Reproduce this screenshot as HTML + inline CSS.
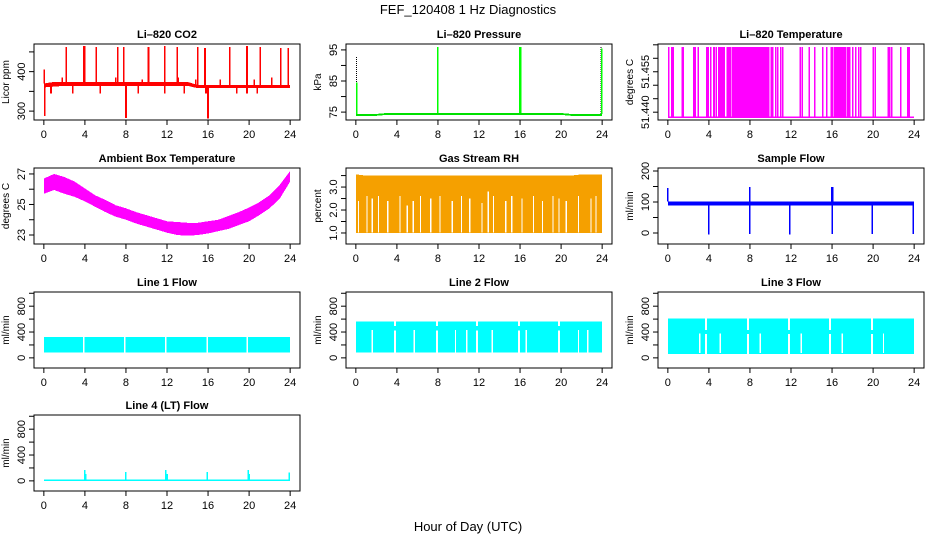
<!DOCTYPE html>
<html><head><meta charset="utf-8"><style>
html,body{margin:0;padding:0;background:#fff;}
svg{display:block;font-family:"Liberation Sans",Arial,sans-serif;}
</style></head><body>
<svg id="chart" width="936" height="540" viewBox="0 0 936 540" xmlns="http://www.w3.org/2000/svg">
<text x="468" y="14" text-anchor="middle" font-size="13">FEF_120408  1 Hz Diagnostics</text>
<text x="468" y="531" text-anchor="middle" font-size="13">Hour of Day (UTC)</text>
</svg>
<script>
// ---- data ----
const hours = [0,1,2,3,4,5,6,7,8,9,10,11,12,13,14,15,16,17,18,19,20,21,22,23,24];
const xTicks = [0,4,8,12,16,20,24];

const co2Lo = [360,362,364,364,364,364,364,364,364,364,364,364,364,364,364,358,358,358,358,358,358,358,358,358,358];
const co2Hi = [370,374,374,374,374,374,374,374,374,374,374,374,374,374,374,366,366,366,366,366,366,366,366,366,366];
const co2SpikeH = [2.2,3.9,4.0,5.1,7.2,7.8,10.2,11.8,13.0,15.0,15.7,18.1,19.8,21.1,23.1,23.8,0.05,1.8,7.0,9.6,13.1,14.8,17.2,20.5,22.2,0.7,2.8,5.5,9.2,11.8,13.7,15.8,18.8,19.8,20.8,0.1,8.0,16.0];
const co2SpikeV = [462,465,465,462,462,462,462,465,462,462,460,462,465,462,460,460,405,385,385,380,385,380,380,380,385,345,345,345,345,345,345,345,345,345,345,288,283,281];

const presLo = [73.8,73.8,73.8,74.1,74.1,74.1,74.1,74.1,74.1,74.1,74.1,74.1,74.1,74.1,74.1,74.1,74.1,74.1,74.1,74.1,74.1,73.8,73.8,73.8,73.8];
const presHi = [74.4,74.4,74.4,74.7,74.7,74.7,74.7,74.7,74.7,74.7,74.7,74.7,74.7,74.7,74.7,74.7,74.7,74.7,74.7,74.7,74.7,74.4,74.4,74.4,74.4];
const presBlackH = [0.05,8.0,16.0,23.9];
const presBlackV = [93,96,96,96];
const presGreenH = [0.1,8.0,15.95,16.05,23.95];
const presGreenV = [84.5,96,96,96,95.5];

const ltBlocks = [[4.4,4.6],[4.9,5.4],[5.7,6.0],[6.2,7.6],[7.7,9.9],[10.0,10.3],[16.2,17.2],[17.4,17.8]];
const ltLines = [0.1,0.4,0.55,1.4,1.5,2.5,2.65,2.95,3.8,3.95,4.2,4.7,5.5,6.1,7.65,10.5,10.7,11.0,11.2,12.9,13.1,13.8,14.3,15.1,15.5,15.9,16.05,17.3,18.0,18.3,18.6,18.8,20.0,20.2,21.5,21.6,21.8,22.7,23.4,23.5];
const ltLow = 51.4382, ltHigh = 51.4642;

const ambLo = [25.7,25.95,25.7,25.5,25.2,24.85,24.5,24.2,24.0,23.75,23.55,23.35,23.15,23.0,22.95,23.0,23.1,23.25,23.4,23.65,23.9,24.3,24.75,25.4,26.5];
const ambHi = [26.7,27.0,26.8,26.5,26.05,25.6,25.3,24.95,24.75,24.5,24.3,24.1,23.9,23.85,23.8,23.8,23.9,24.0,24.25,24.5,24.8,25.15,25.6,26.3,27.2];

const rhLo = [1.0,1.0,1.0,1.0,1.0,1.0,1.0,1.0,1.0,1.0,1.0,1.0,1.0,1.0,1.0,1.0,1.0,1.0,1.0,1.0,1.0,1.0,1.0,1.0,1.0];
const rhHi = [3.55,3.5,3.5,3.5,3.5,3.5,3.5,3.5,3.5,3.5,3.5,3.5,3.5,3.5,3.5,3.5,3.5,3.5,3.5,3.5,3.5,3.5,3.55,3.55,3.55];
const rhGapH = [0.25,1.1,1.6,2.2,3.1,4.3,5.0,5.6,6.3,7.3,8.2,9.4,10.3,11.1,12.3,12.9,13.4,14.6,15.2,16.2,17.3,18.2,19.2,19.8,20.5,21.7,22.9,23.4];
const rhGapTop = [2.4,2.6,2.5,2.6,2.4,2.6,2.2,2.4,2.6,2.5,2.6,2.4,2.6,2.5,2.3,2.8,2.6,2.4,2.6,2.5,2.6,2.4,2.6,2.5,2.4,2.6,2.5,2.6];

const sfLo = [88,88,88,88,88,88,88,88,88,88,88,88,88,88,88,88,88,88,88,88,88,88,88,88,88];
const sfHi = [102,102,102,102,102,102,102,102,102,102,102,102,102,102,102,102,102,102,102,102,102,102,102,102,102];
const sfSpikeH = [0.0,8.0,15.95,16.05,4.0,8.0,11.9,16.0,19.9,23.9];
const sfSpikeV = [145,148,148,148,-5,-3,-5,-3,-3,-3];

const f1Lo = [80,80], f1Hi = [320,320];
const f1BlockGaps = [3.9,7.9,11.9,15.9,19.8];
const f2Lo = [80,80], f2Hi = [560,560];
const f2BlockGaps = [3.8,7.9,11.8,15.9,19.8];
const f2InnerGaps = [1.6,5.7,9.7,10.8,13.3,16.6,21.7,22.6];
const f3Lo = [60,60], f3Hi = [610,610];
const f3BlockGaps = [3.7,7.8,11.8,15.8,19.9];
const f3InnerGaps = [3.1,5.1,9.0,13.0,17.0,21.0];
const f4Lo = [0,0], f4Hi = [20,20];
const f4SpikeH = [4.0,4.1,8.0,11.9,12.0,15.9,19.9,20.0,23.9];
const f4SpikeV = [170,110,140,170,110,140,170,110,130];

// ---- drawing ----
const svg = document.getElementById('chart');
const NS = 'http://www.w3.org/2000/svg';
function mk(tag, attrs, parent){ const e=document.createElementNS(NS,tag); for(const k in attrs) e.setAttribute(k,attrs[k]); (parent||svg).appendChild(e); return e; }

function panel(name, title, ylab, col, row, dmin, dmax, yTicks, yLabels){
  const L=[34,346,658][col], T=[44,168,292,415][row], W=266, H=76;
  const g = mk('g',{});
  
  
  const x = h => L + (h+0.96)*W/25.92;
  const y = v => T + H - (v-dmin)/(dmax-dmin)*H;
  const t = mk('text',{x:L+W/2,y:T-6,'text-anchor':'middle','font-size':'11','font-weight':'bold'},g);
  t.textContent = title;
  
  
  const marks = mk('g',{'shape-rendering':'crispEdges'},g);
  const axes = mk('g',{},g);
  mk('rect',{x:L,y:T,width:W,height:H,fill:'none',stroke:'#000','stroke-width':1},axes);
  xTicks.forEach(h=>{
    mk('line',{x1:x(h),x2:x(h),y1:T+H,y2:T+H+5,stroke:'#000'},axes);
    const tl = mk('text',{x:x(h),y:T+H+18,'text-anchor':'middle','font-size':'11'},axes);
    tl.textContent = h;
  });
  yTicks.forEach(v=>{
    mk('line',{x1:L-5,x2:L,y1:y(v),y2:y(v),stroke:'#000'},axes);
  });
  yLabels.forEach(v=>{
    const tl = mk('text',{transform:`translate(${L-9},${y(v)}) rotate(-90)`,'text-anchor':'middle','font-size':'11'},axes);
    tl.textContent = v;
  });
  const yl = mk('text',{transform:`translate(${L-25},${T+H/2}) rotate(-90)`,'text-anchor':'middle','font-size':'10'},axes);
  yl.textContent = ylab;
  
  
  return {x,y,g:marks,L,T,W,H};
}
function band(p, hs, lo, hi, fill, nm){
  let pts=[]; hs.forEach((h,i)=>pts.push(p.x(h)+','+p.y(hi[i])));
  for(let i=hs.length-1;i>=0;i--) pts.push(p.x(hs[i])+','+p.y(lo[i]));
  const e = mk('polygon',{points:pts.join(' '),fill:fill},p.g);
  
  
  return e;
}
function interp(hs, arr, h){
  for(let i=0;i<hs.length-1;i++){ if(h<=hs[i+1]){ const f=(h-hs[i])/(hs[i+1]-hs[i]); return arr[i]+f*(arr[i+1]-arr[i]); } }
  return arr[arr.length-1];
}
function spikes(p, hs, lo, hi, sh, sv, color, w, nm, dash){
  sh.forEach((h,i)=>{
    const base = sv[i] > interp(hs,hi,h) ? interp(hs,hi,h) : interp(hs,lo,h);
    const e = mk('line',{x1:p.x(h),x2:p.x(h),y1:p.y(base),y2:p.y(sv[i]),stroke:color,'stroke-width':w},p.g);
    if(dash) e.setAttribute('stroke-dasharray',dash);
    
    
  });
}
function vline(p, h, a, b, color, w, nm){
  const e = mk('line',{x1:p.x(h),x2:p.x(h),y1:p.y(a),y2:p.y(b),stroke:color,'stroke-width':w},p.g);
  
  
}

// CO2
let p = panel('co2-panel','Li\u2013820 CO2','Licor ppm',0,0,277.5,470,[300,350,400,450],[300,400]);
band(p,hours,co2Lo,co2Hi,'#ff0000','co2-band');
spikes(p,hours,co2Lo,co2Hi,co2SpikeH,co2SpikeV,'#ff0000',1.6,'co2-spike');

// Pressure
p = panel('pressure-panel','Li\u2013820 Pressure','kPa',1,0,72.46,96.9,[75,80,85,90,95],[75,85,95]);
band(p,hours,presLo,presHi,'#00e000','pressure-band');
spikes(p,hours,presLo,presHi,presBlackH,presBlackV,'#000',1,'pressure-black-spike','1,1');
spikes(p,hours,presLo,presHi,presGreenH,presGreenV,'#00ff00',1.5,'pressure-green-spike');

// Li temp
p = panel('li-temp-panel','Li\u2013820 Temperature','degrees C',2,0,51.4371,51.4653,[51.440,51.445,51.450,51.455,51.460,51.465],['51.440','51.455']);
{ const e=mk('line',{x1:p.x(0),x2:p.x(24),y1:p.y(ltLow),y2:p.y(ltLow),stroke:'#ff00ff','stroke-width':1.5},p.g);
  
   }
ltBlocks.forEach(b=>{
  const e=mk('rect',{x:p.x(b[0]),y:p.y(ltHigh),width:p.x(b[1])-p.x(b[0]),height:p.y(ltLow)-p.y(ltHigh),fill:'#ff00ff'},p.g);
  
  
});
ltLines.forEach(h=>vline(p,h,ltLow,ltHigh,'#ff00ff',1.5,'li-temp-toggle'));

// Ambient
p = panel('ambient-temp-panel','Ambient Box Temperature','degrees C',0,1,22.41,27.39,[23,24,25,26,27],[23,25,27]);
band(p,hours,ambLo,ambHi,'#ff00ff','ambient-band');

// RH
p = panel('rh-panel','Gas Stream RH','percent',1,1,0.52,3.83,[1.0,1.5,2.0,2.5,3.0,3.5],['1.0','2.0','3.0']);
band(p,hours,rhLo,rhHi,'#f5a000','rh-band');
rhGapH.forEach((h,i)=>vline(p,h,1.02,rhGapTop[i],'#ffffff',1.2,'rh-gap'));

// Sample flow
p = panel('sample-flow-panel','Sample Flow','ml/min',2,1,-35.5,209.7,[0,50,100,150,200],[0,100,200]);
band(p,hours,sfLo,sfHi,'#0000ff','sample-flow-band');
spikes(p,hours,sfLo,sfHi,sfSpikeH,sfSpikeV,'#0000ff',1.5,'sample-flow-spike');

const flowTicks=[0,200,400,600,800,1000], flowLabels=[0,400,800];
// Line 1
p = panel('line1-flow-panel','Line 1 Flow','ml/min',0,2,-156.9,1019.6,flowTicks,flowLabels);
band(p,[0,24],f1Lo,f1Hi,'#00ffff','line1-band');
f1BlockGaps.forEach(h=>vline(p,h,75,325,'#ffffff',1.5,'line1-gap'));

// Line 2
p = panel('line2-flow-panel','Line 2 Flow','ml/min',1,2,-156.9,1019.6,flowTicks,flowLabels);
band(p,[0,24],f2Lo,f2Hi,'#00ffff','line2-band');
f2BlockGaps.forEach(h=>{vline(p,h,75,420,'#ffffff',2,'line2-block-gap');vline(p,h,490,570,'#ffffff',2,'line2-block-gap');});
f2InnerGaps.forEach(h=>vline(p,h,75,430,'#ffffff',1.2,'line2-inner-gap'));

// Line 3
p = panel('line3-flow-panel','Line 3 Flow','ml/min',2,2,-156.9,1019.6,flowTicks,flowLabels);
band(p,[0,24],f3Lo,f3Hi,'#00ffff','line3-band');
f3BlockGaps.forEach(h=>{vline(p,h,55,370,'#ffffff',2,'line3-block-gap');vline(p,h,430,620,'#ffffff',2,'line3-block-gap');});
f3InnerGaps.forEach(h=>vline(p,h,75,380,'#ffffff',1.2,'line3-inner-gap'));

// Line 4
p = panel('line4-flow-panel','Line 4 (LT) Flow','ml/min',0,3,-156.9,1019.6,flowTicks,flowLabels);
band(p,[0,24],f4Lo,f4Hi,'#00ffff','line4-band');
spikes(p,[0,24],f4Lo,f4Hi,f4SpikeH,f4SpikeV,'#00ffff',1.5,'line4-spike');
</script>
</body></html>
